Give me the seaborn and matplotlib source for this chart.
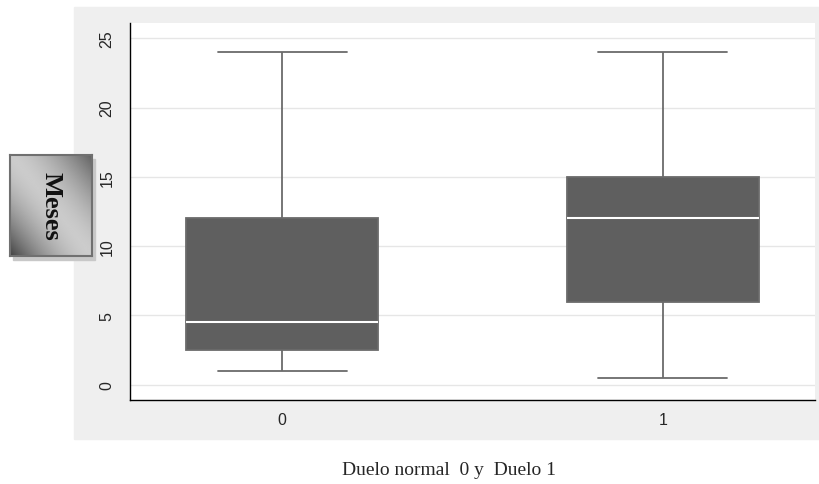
import numpy as np
import pandas as pd
import seaborn as sns
import matplotlib.pyplot as plt
from matplotlib.patches import Rectangle

# five-number summaries (min, Q1, median, Q3, max)
grupos = ['0', '1']
duelo_normal = [1, 2.5, 4.5, 12, 24]
duelo = [0.5, 6, 12, 15, 24]
yticks = [0, 5, 10, 15, 20, 25]

df = pd.DataFrame({
    'grupo': ['0'] * len(duelo_normal) + ['1'] * len(duelo),
    'meses': duelo_normal + duelo,
})

sns.set_style('white')
plt.rcParams['font.family'] = ['Liberation Sans', 'DejaVu Sans']

W, H = 820, 485
fig = plt.figure(figsize=(W / 100, H / 100), dpi=100, facecolor='white')

# gray panel behind the plot
fig.patches.append(Rectangle((74 / W, 45 / H), (W - 74) / W, 432 / H,
                             transform=fig.transFigure, color='#efefef', zorder=-2))

ax = fig.add_axes([130 / W, 84 / H, 685 / W, 377 / H])
ax.set_facecolor('white')

sns.boxplot(data=df, x='grupo', y='meses', order=grupos, ax=ax,
            whis=(0, 100), width=0.505, color='#5f5f5f', saturation=1,
            linecolor='#6b6b6b', linewidth=1.3, capwidths=0.34,
            medianprops=dict(color='white', linewidth=1.5))

ax.set_xlim(-0.4, 1.4)
ax.set_ylim(-1.1, 26.1)
ax.set_yticks(yticks)
ax.set_yticklabels([str(t) for t in yticks], rotation=90, va='center', fontsize=11.5)
ax.tick_params(axis='y', length=7, width=0.8, color='black', pad=4)
ax.tick_params(axis='x', length=0, labelsize=11.5, pad=9)
ax.yaxis.grid(True, color='#e6e6e6', linewidth=1)
ax.xaxis.grid(False)
ax.set_axisbelow(True)
for s in ['top', 'right']:
    ax.spines[s].set_visible(False)
for s in ['left', 'bottom']:
    ax.spines[s].set_color('black')
    ax.spines[s].set_linewidth(1)
ax.set_xlabel('')
ax.set_ylabel('')

# "Meses" label box with gradient and shadow
fig.patches.append(Rectangle((13 / W, (H - 261) / H), 82 / W, 101 / H,
                             transform=fig.transFigure, color='#c8c8c8', zorder=-1))
lab = fig.add_axes([10 / W, (H - 257) / H, 82 / W, 101 / H])
u = np.linspace(0, 1, 120)[None, :]
v = np.linspace(0, 1, 150)[:, None]
d = np.abs(u - v)
grad = 0.80 - 0.42 * d ** 1.6 - 0.12 * (v * (1 - u)) ** 2
lab.imshow(grad, cmap='gray', vmin=0, vmax=1, aspect='auto', extent=(0, 1, 0, 1))
lab.set_xticks([])
lab.set_yticks([])
for s in lab.spines.values():
    s.set_color('#707070')
    s.set_linewidth(1.5)
lab.text(0.5, 0.5, 'Meses', rotation=-90, ha='center', va='center',
         fontsize=19, fontweight='bold', family='Liberation Serif', color='#111111')

fig.text(449 / W, (H - 471) / H, 'Duelo normal  0 y  Duelo 1', ha='center', va='center',
         fontsize=14, family='Liberation Serif')

fig.savefig('out.png', dpi=100)
